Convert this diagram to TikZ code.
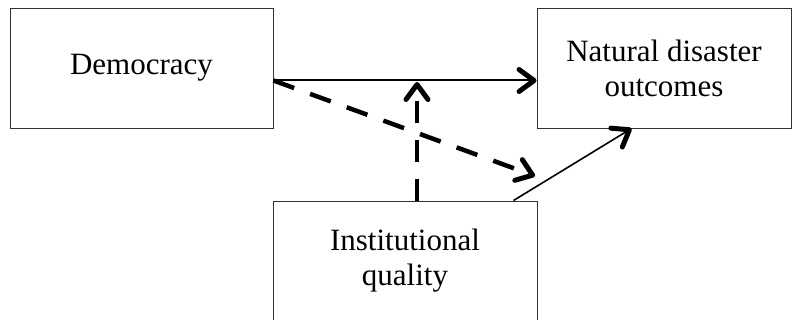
\documentclass[tikz,border=0pt]{standalone}
\usepackage{fontspec}
\setmainfont{Liberation Serif}
\usepackage{tikz}
\usetikzlibrary{arrows.meta,positioning,calc}
\tikzset{
  varbox/.style={rectangle, draw=black!80, line width=0.9pt, align=center, inner sep=0pt},
  effect/.style={-{Straight Barb[length=15pt, width=22pt, line width=5pt 0, round]}, line width=2pt, black},
  moderate/.style={-{Straight Barb[length=15pt, width=22pt, line width=5pt 0, round]}, line width=4.5pt, black, dash pattern=on 22pt off 17pt},
}

\begin{document}
\begin{tikzpicture}[x=1pt, y=-1pt, font=\fontsize{31}{35}\selectfont]
  \useasboundingbox (0,0) rectangle (793,320);
  \node[varbox, minimum width=263pt, minimum height=120pt] (dem) at (141.5, 68) {Democracy};
  \node[varbox, minimum width=254pt, minimum height=120pt] (nat) at (664, 68) {Natural disaster\\outcomes};
  \node[varbox, minimum width=264pt, minimum height=120pt] (inst) at (405, 261) {Institutional\\quality};
  % interaction points
  \coordinate (mod) at ([xshift=12pt, yshift=-14pt]dem.east -| inst.north);
  \coordinate (cond) at (535, 176);
  \draw[effect] ([yshift=-12.5pt]dem.east) -- ([yshift=-12.5pt]nat.west);
  \draw[effect, line width=1.6pt] ([xshift=-24pt]inst.north east) -- ([xshift=95pt]nat.south west);
  \draw[moderate] ([yshift=-12.5pt]dem.east) -- (cond);
  \draw[moderate] ([xshift=12pt]inst.north) -- (mod);
\end{tikzpicture}
\end{document}
